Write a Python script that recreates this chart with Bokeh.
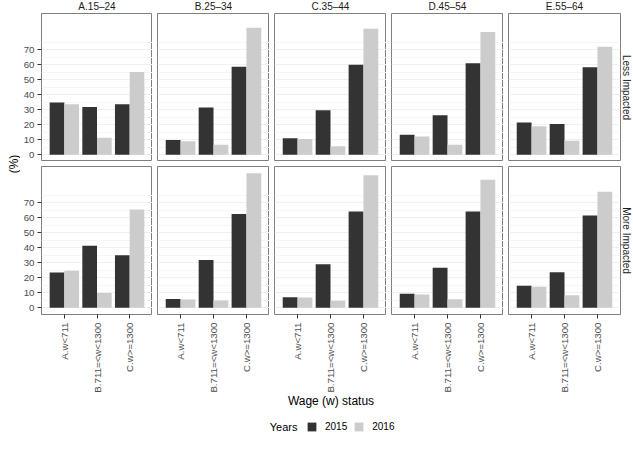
import math
from bokeh.plotting import figure
from bokeh.models import (FactorRange, Range1d, FixedTicker, Title, Legend,
                          LegendItem, ColumnDataSource, Grid)
from bokeh.transform import dodge
from bokeh.layouts import row, column
from bokeh.embed import file_html
from bokeh.resources import INLINE
from bokeh.core.properties import value

# ---------------- data ----------------
age_groups = ["A.15–24", "B.25–34", "C.35–44", "D.45–54", "E.55–64"]
impact_levels = ["Less Impacted", "More Impacted"]
wage_status = ["A.w<711", "B.711=<w<1300", "C.w>=1300"]
years = ["2015", "2016"]
y_ticks = [0, 10, 20, 30, 40, 50, 60, 70]

# one list per age group, values for the three wage classes (%)
less_2015 = [[34.7, 31.8, 33.6], [9.9, 31.4, 58.6], [11.0, 29.6, 59.9],
             [13.4, 26.3, 60.8], [21.5, 20.4, 58.2]]
less_2016 = [[33.6, 11.4, 55.1], [9.0, 6.6, 84.5], [10.5, 5.7, 83.8],
             [12.1, 6.6, 81.6], [18.9, 9.4, 71.8]]
more_2015 = [[23.5, 41.3, 34.9], [5.9, 31.8, 62.3], [7.0, 29.0, 64.1],
             [9.4, 26.6, 64.1], [14.7, 23.7, 61.4]]
more_2016 = [[24.6, 9.9, 65.4], [5.5, 4.8, 89.5], [6.8, 4.6, 88.2],
             [8.8, 5.7, 85.1], [14.0, 8.3, 77.2]]

values = {
    ("Less Impacted", "2015"): less_2015,
    ("Less Impacted", "2016"): less_2016,
    ("More Impacted", "2015"): more_2015,
    ("More Impacted", "2016"): more_2016,
}

# ---------------- style ----------------
FONT = "Liberation Sans"
FILL = {"2015": "#333333", "2016": "#cccccc"}
OFFS = {"2015": -0.225, "2016": 0.225}
BAR_W = 0.45

ymax = max(max(max(g) for g in arr) for arr in values.values())
y_lo, y_hi = -0.05 * ymax, 1.05 * ymax
minor = [5 + 10 * k for k in range(8)]

frame_w = [112, 112, 112, 112, 113]
frame_h = 148

rows = []
for i, imp in enumerate(impact_levels):
    figs = []
    for j, age in enumerate(age_groups):
        left = 20 if j == 0 else 5
        right = 12 if j == 4 else 0
        top = 13 if i == 0 else 5
        bottom = 81 if i == 1 else 0
        p = figure(
            width=left + frame_w[j] + right,
            height=top + frame_h + bottom,
            x_range=FactorRange(factors=wage_status, range_padding=0.2,
                                range_padding_units="absolute"),
            y_range=Range1d(y_lo, y_hi),
            x_axis_location="below" if i == 1 else None,
            y_axis_location="left" if j == 0 else None,
            title=age if i == 0 else None,
            min_border_left=left, min_border_right=right,
            min_border_top=top, min_border_bottom=bottom,
            output_backend="svg", toolbar_location=None,
            background_fill_color="white", border_fill_color="white",
        )
        p.outline_line_color = "#7f7f7f"
        p.outline_line_width = 1
        for g in p.grid:
            g.grid_line_color = None
        p.add_layout(Grid(dimension=1,
                          ticker=FixedTicker(ticks=y_ticks, minor_ticks=minor),
                          grid_line_color="#f0f0f0",
                          minor_grid_line_color="#f6f6f6"))
        if i == 0:
            p.title.align = "center"
            p.title.text_font = FONT
            p.title.text_font_size = "10px"
            p.title.text_font_style = "normal"
            p.title.text_color = "#1a1a1a"
            p.title.standoff = 0
            p.title.vertical_align = "top"
        if j == 4:
            p.add_layout(Title(text=imp, align="center", text_font=FONT,
                               text_font_size="10px", text_font_style="normal",
                               text_color="#1a1a1a", standoff=0), "right")
        if j == 0:
            ax = p.yaxis[0]
            ax.ticker = FixedTicker(ticks=y_ticks)
            ax.axis_line_color = None
            ax.major_tick_in = 0
            ax.major_tick_out = 4
            ax.minor_tick_out = 0
            ax.minor_tick_in = 0
            ax.major_tick_line_color = "#333333"
            ax.major_label_standoff = 3
            ax.major_label_text_font = FONT
            ax.major_label_text_font_size = "9.7px"
            ax.major_label_text_color = "#4d4d4d"
        if i == 1:
            ax = p.xaxis[0]
            ax.axis_line_color = None
            ax.major_tick_in = 0
            ax.major_tick_out = 4
            ax.major_tick_line_color = "#333333"
            ax.major_label_orientation = math.pi / 2
            ax.major_label_standoff = 4
            ax.major_label_text_font = FONT
            ax.major_label_text_font_size = "9.7px"
            ax.major_label_text_color = "#4d4d4d"

        src = ColumnDataSource(dict(
            wage=wage_status,
            y2015=values[(imp, "2015")][j],
            y2016=values[(imp, "2016")][j],
        ))
        for yr in years:
            p.vbar(x=dodge("wage", OFFS[yr], range=p.x_range), top="y" + yr,
                   bottom=0, width=BAR_W, source=src,
                   fill_color=FILL[yr], line_color=None)
        figs.append(p)
    rows.append(row(*figs))

panels_h = sum(r.children[0].height for r in rows)

# y-axis title
lbl = figure(width=20, height=panels_h, x_range=Range1d(0, 20),
             y_range=Range1d(0, panels_h), min_border=0,
             x_axis_location=None, y_axis_location=None,
             output_backend="svg", toolbar_location=None,
             outline_line_color=None)
for g in lbl.grid:
    g.visible = False
lbl.text(x=[13], y=[panels_h - 163.5], text=["(%)"], angle=math.pi / 2,
         text_align="center", text_baseline="middle",
         text_font=value(FONT), text_font_size="12px", text_color="black")

# x-axis title + legend
LH = 453 - panels_h
lf = figure(width=633, height=LH, x_range=Range1d(0, 633),
            y_range=Range1d(0, LH), min_border=0,
            x_axis_location=None, y_axis_location=None,
            output_backend="svg", toolbar_location=None,
            outline_line_color=None)
for g in lf.grid:
    g.visible = False
lf.text(x=[330.5], y=[LH - 5], text=["Wage (w) status"], text_align="center",
        text_baseline="middle", text_font=value(FONT), text_font_size="12px",
        text_color="black")
lf.text(x=[297], y=[LH - 31], text=["Years"], text_align="right",
        text_baseline="middle", text_font=value(FONT), text_font_size="11px",
        text_color="black")
items = []
for yr in years:
    # zero-height key glyph: only used to draw the legend swatch
    r = lf.vbar(x=[0], top=[0], bottom=[0], width=0,
                fill_color=FILL[yr], line_color=None)
    items.append(LegendItem(label=yr, renderers=[r]))
leg = Legend(items=items, orientation="horizontal", location=(306, LH - 36.5),
             glyph_width=11, glyph_height=11, label_height=11,
             label_standoff=8, spacing=6, padding=0, margin=0,
             border_line_color=None, background_fill_alpha=0,
             label_text_font=FONT, label_text_font_size="10px",
             label_text_color="black")
lf.add_layout(leg)

layout = column(row(lbl, column(*rows)), lf)

open("out.html", "w").write(file_html(layout, INLINE))
